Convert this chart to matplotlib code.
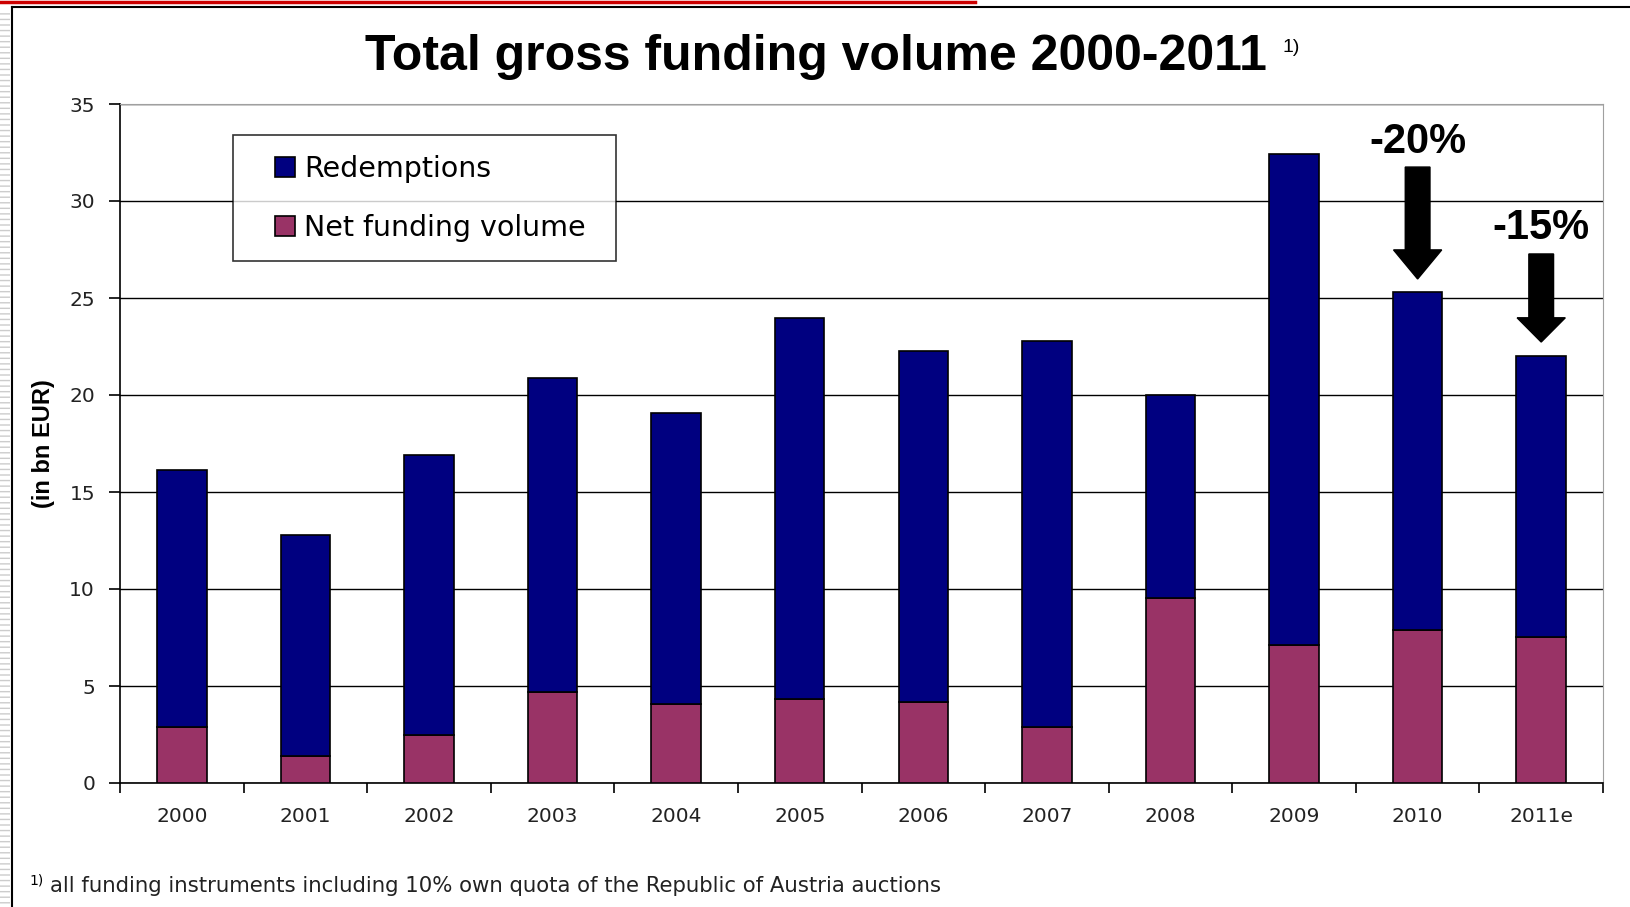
import numpy as np
from matplotlib import pyplot as plt
from matplotlib.patches import Rectangle
from matplotlib.lines import Line2D
from matplotlib.legend_handler import HandlerPatch

# Données (en mrd EUR)
annees = ['2000', '2001', '2002', '2003', '2004', '2005',
          '2006', '2007', '2008', '2009', '2010', '2011e']
total = [16.15, 12.8, 16.9, 20.9, 19.05, 23.95, 22.25, 22.8, 20.0, 32.4, 25.3, 22.0]
net = [2.9, 1.4, 2.45, 4.7, 4.05, 4.35, 4.2, 2.9, 9.55, 7.1, 7.9, 7.55]
redemptions = [t - n for t, n in zip(total, net)]

# quelques paramètres pour le graphique
plt.rcParams['font.family'] = ['Liberation Sans', 'DejaVu Sans']

fig = plt.figure(figsize=(16.3, 9.07), dpi=100)
ax = fig.add_axes([120 / 1630, 1 - 783 / 907, 1483 / 1630, 679 / 907])

x = np.arange(len(annees))
b_net = ax.bar(x, net, width=0.4, color='#993366', edgecolor='black', linewidth=1.2, zorder=3)
b_red = ax.bar(x, redemptions, width=0.4, bottom=net, color='#000080',
               edgecolor='black', linewidth=1.2, zorder=3)

ax.set_xlim(-0.5, len(annees) - 0.5)
ax.set_ylim(0, 35)
ax.set_yticks(np.arange(0, 36, 5))
ax.yaxis.grid(True, color='black', linewidth=1.0, zorder=0)

ax.set_xticks(x)
ax.set_xticklabels(annees)
ax.set_xticks(np.arange(-0.5, len(annees)), minor=True)
ax.tick_params(axis='x', which='major', length=0, pad=17)
ax.tick_params(axis='x', which='minor', length=7, width=1.2, direction='out')
ax.tick_params(axis='y', length=8, width=1.2, direction='out', pad=10)
for lab in ax.get_xticklabels() + ax.get_yticklabels():
    lab.set_family('DejaVu Sans')
    lab.set_fontsize(14.5)
    lab.set_color('#222222')

ax.spines['left'].set_linewidth(1.2)
ax.spines['bottom'].set_linewidth(1.2)
ax.spines['top'].set_color('#a0a0a0')
ax.spines['right'].set_color('#a0a0a0')

ax.set_ylabel('(in bn EUR)', fontsize=17, fontweight='bold', labelpad=10)

# flèches de baisse
ax.arrow(10, 31.75, 0, -5.77, width=0.2, head_width=0.39, head_length=1.5,
         length_includes_head=True, color='black', zorder=4)
ax.text(10, 33.05, '-20%', ha='center', va='center', fontsize=30, fontweight='bold')
ax.arrow(11, 27.27, 0, -4.54, width=0.2, head_width=0.39, head_length=1.25,
         length_includes_head=True, color='black', zorder=4)
ax.text(11, 28.6, '-15%', ha='center', va='center', fontsize=30, fontweight='bold')


# carré de légende décalé vers la droite
def carre(legend, orig_handle, xdescent, ydescent, width, height, fontsize):
    return Rectangle((width - height - xdescent, -ydescent), height, height)


h_red = b_red.patches[0]
h_net = b_net.patches[0]
leg = ax.legend([h_red, h_net], ['Redemptions', 'Net funding volume'],
                loc='upper left', bbox_to_anchor=(0.0762, 0.954 - 0.181, 0.2583, 0.181),
                mode='expand', prop={'family': 'DejaVu Sans', 'size': 20.5},
                frameon=True, fancybox=False, edgecolor='black',
                handler_map={h_red: HandlerPatch(patch_func=carre),
                             h_net: HandlerPatch(patch_func=carre)},
                handlelength=1.5, handleheight=0.7, handletextpad=0.33,
                labelspacing=1.1, borderpad=0.68, borderaxespad=0)
leg.get_frame().set_linewidth(1.2)
leg.set_zorder(5)

# titre et note
fig.text(816 / 1630, 1 - 57 / 907, 'Total gross funding volume 2000-2011',
         ha='center', va='center', fontsize=36, fontweight='bold')
fig.text(1282 / 1630, 1 - 47 / 907, '1)', ha='left', va='center', fontsize=14)
fig.text(29 / 1630, 1 - 880 / 907, '1)', ha='left', va='center', fontsize=10,
         family='DejaVu Sans')
fig.text(50 / 1630, 1 - 886 / 907,
         'all funding instruments including 10% own quota of the Republic of Austria auctions',
         ha='left', va='center', fontsize=15.3, family='DejaVu Sans', color='#222222')

# cadre et bandeau rouge
fig.add_artist(Line2D([0, 975 / 1630], [1 - 1.5 / 907, 1 - 1.5 / 907], color='#cc0000', linewidth=2.5))
fig.add_artist(Line2D([12 / 1630, 1], [1 - 7 / 907, 1 - 7 / 907], color='black', linewidth=1.5))
fig.add_artist(Line2D([12 / 1630, 12 / 1630], [0, 1 - 7 / 907], color='black', linewidth=1.5))
fig.add_artist(Rectangle((0, 0), 10 / 1630, 1 - 10 / 907, facecolor='white',
                         edgecolor='#cccccc', hatch='---', linewidth=0))

fig.savefig('out.png', dpi=100)
